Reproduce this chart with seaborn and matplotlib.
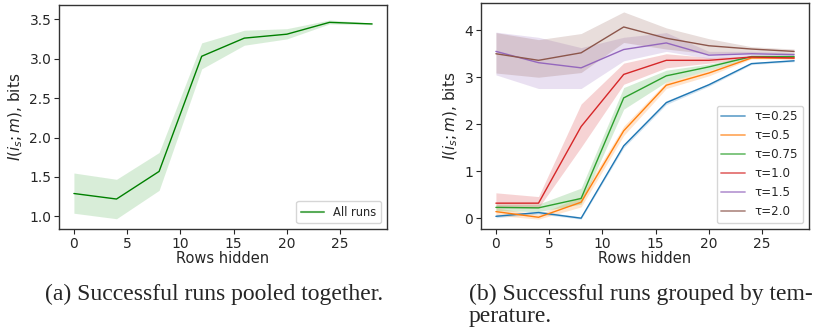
import numpy as np
import pandas as pd
import matplotlib
matplotlib.use("Agg")
import matplotlib.pyplot as plt
import seaborn as sns

rows_hidden = [0, 4, 8, 12, 16, 20, 24, 28]

# Left panel: all runs pooled
all_mean = [1.29, 1.22, 1.57, 3.03, 3.26, 3.31, 3.46, 3.44]
all_lo = [1.04, 0.97, 1.33, 2.87, 3.17, 3.25, 3.44, 3.43]
all_hi = [1.55, 1.47, 1.81, 3.20, 3.36, 3.38, 3.49, 3.45]

# Right panel: by temperature
taus = ["τ=0.25", "τ=0.5", "τ=0.75", "τ=1.0", "τ=1.5", "τ=2.0"]
t025_mean = [0.04, 0.12, 0.00, 1.54, 2.46, 2.84, 3.29, 3.35]
t025_lo = [0.01, 0.09, -0.02, 1.50, 2.42, 2.81, 3.27, 3.33]
t025_hi = [0.07, 0.15, 0.03, 1.58, 2.50, 2.87, 3.31, 3.37]
t05_mean = [0.14, 0.02, 0.34, 1.86, 2.83, 3.09, 3.41, 3.41]
t05_lo = [0.06, -0.02, 0.24, 1.76, 2.76, 3.03, 3.39, 3.39]
t05_hi = [0.22, 0.08, 0.46, 1.96, 2.90, 3.15, 3.44, 3.43]
t075_mean = [0.23, 0.22, 0.42, 2.56, 3.03, 3.22, 3.44, 3.44]
t075_lo = [0.16, 0.14, 0.30, 2.32, 2.90, 3.15, 3.42, 3.42]
t075_hi = [0.30, 0.30, 0.64, 2.78, 3.15, 3.28, 3.46, 3.46]
t10_mean = [0.32, 0.32, 1.95, 3.06, 3.36, 3.36, 3.43, 3.41]
t10_lo = [0.22, 0.22, 1.51, 2.85, 3.20, 3.30, 3.41, 3.39]
t10_hi = [0.54, 0.46, 2.43, 3.30, 3.50, 3.42, 3.45, 3.44]
t15_mean = [3.55, 3.31, 3.20, 3.59, 3.73, 3.47, 3.50, 3.48]
t15_lo = [3.05, 2.76, 2.76, 3.35, 3.55, 3.40, 3.45, 3.45]
t15_hi = [3.96, 3.85, 3.63, 3.85, 3.95, 3.55, 3.55, 3.52]
t20_mean = [3.50, 3.36, 3.52, 4.07, 3.83, 3.67, 3.60, 3.55]
t20_lo = [3.09, 3.00, 3.10, 3.74, 3.60, 3.50, 3.52, 3.50]
t20_hi = [3.95, 3.80, 3.93, 4.39, 4.05, 3.82, 3.65, 3.60]

tau_means = [t025_mean, t05_mean, t075_mean, t10_mean, t15_mean, t20_mean]
tau_los = [t025_lo, t05_lo, t075_lo, t10_lo, t15_lo, t20_lo]
tau_his = [t025_hi, t05_hi, t075_hi, t10_hi, t15_hi, t20_hi]

sns.set_style("white")
plt.rcParams['font.family'] = ['DejaVu Sans']
plt.rcParams['axes.edgecolor'] = '#333333'
plt.rcParams['xtick.bottom'] = True
plt.rcParams['ytick.left'] = True

fig = plt.figure(figsize=(8.15, 3.3), dpi=100)
W, H = 815, 330
ax1 = fig.add_axes([59 / W, (330 - 229) / H, 328 / W, 224 / H])
ax2 = fig.add_axes([481 / W, (330 - 229) / H, 328 / W, 226 / H])

palette = sns.color_palette("tab10", 6)

# Left panel
df_all = pd.DataFrame({"x": rows_hidden, "y": all_mean})
sns.lineplot(data=df_all, x="x", y="y", ax=ax1, color="green", lw=1.0, label="All runs")
ax1.fill_between(rows_hidden, all_lo, all_hi, color="tab:green", alpha=0.18, lw=0)
ax1.set_ylim(0.84, 3.68)
ax1.set_yticks([1.0, 1.5, 2.0, 2.5, 3.0, 3.5])
ax1.set_xticks([0, 5, 10, 15, 20, 25])
ax1.set_xlabel("Rows hidden", fontsize=10.5, labelpad=0)
ax1.set_ylabel("$I(i_s;m)$, bits", fontsize=11, labelpad=3)
ax1.tick_params(labelsize=10, length=3.5, pad=2)
leg1 = ax1.legend(loc="lower right", fontsize=8.3, frameon=True)
for h in leg1.get_lines():
    h.set_alpha(0.65)
    h.set_linewidth(1.5)

# Right panel
rows = []
for name, m in zip(taus, tau_means):
    for x, v in zip(rows_hidden, m):
        rows.append({"x": x, "y": v, "tau": name})
df_tau = pd.DataFrame(rows)
sns.lineplot(data=df_tau, x="x", y="y", hue="tau", hue_order=taus, palette=palette,
             ax=ax2, lw=1.0)
for c, lo, hi in zip(palette, tau_los, tau_his):
    ax2.fill_between(rows_hidden, lo, hi, color=c, alpha=0.2, lw=0)
ax2.set_ylim(-0.23, 4.58)
ax2.set_yticks([0, 1, 2, 3, 4])
ax2.set_xticks([0, 5, 10, 15, 20, 25])
ax2.set_xlabel("Rows hidden", fontsize=10.5, labelpad=0)
ax2.set_ylabel("$I(i_s;m)$, bits", fontsize=11, labelpad=3)
ax2.tick_params(labelsize=10, length=3.5, pad=2)
leg2 = ax2.legend(loc="lower right", fontsize=8.6, frameon=True, title=None)
for h in leg2.get_lines():
    h.set_alpha(0.65)
    h.set_linewidth(1.3)

for ax in (ax1, ax2):
    for s in ax.spines.values():
        s.set_linewidth(1.0)

serif = ['Liberation Serif', 'DejaVu Serif']
fig.text(45 / W, 1 - 300 / H, "(a) Successful runs pooled together.", family=serif,
         fontsize=17, va="baseline")
fig.text(469 / W, 1 - 300 / H, "(b) Successful runs grouped by tem-", family=serif,
         fontsize=17, va="baseline")
fig.text(469 / W, 1 - 322 / H, "perature.", family=serif, fontsize=17, va="baseline")

fig.savefig("out.png", dpi=100)
